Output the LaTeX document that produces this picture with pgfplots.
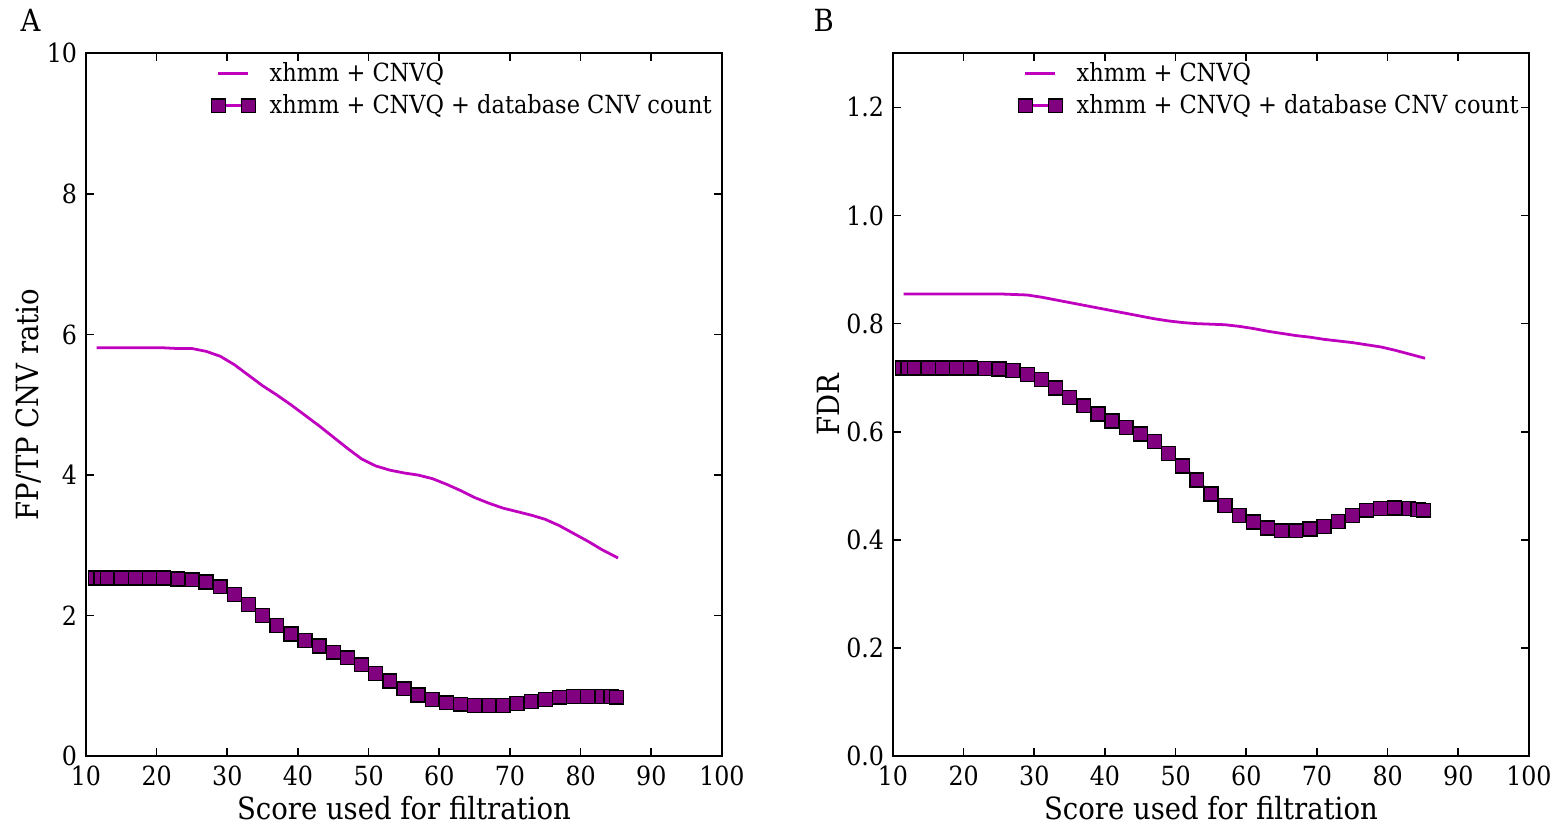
\documentclass[border=0pt]{standalone}
\usepackage{fontspec}
\setmainfont{DejaVu Serif Condensed}
\usepackage{pgfplots}
\pgfplotsset{compat=1.18}
\definecolor{mline}{RGB}{191,0,191}
\definecolor{mfill}{RGB}{128,0,128}
\pgfplotsset{
  panel/.style={
    scale only axis, width=228.96pt, height=253.08pt,
    xmin=10, xmax=100, xtick={10,20,...,100},
    tick align=inside, xtick pos=both, ytick pos=both,
    major tick length=2.9pt, minor tick num=0,
    axis line style={line width=0.8pt}, tick style={line width=0.6pt,black},
    /pgf/number format/assume math mode=true,
    tick label style={font=\fontsize{9.5}{11}\selectfont},
    yticklabel style={xshift=0.3pt, inner ysep=0.3pt},
    xticklabel style={inner ysep=0.3pt, yshift=-3pt},
    label style={font=\fontsize{11}{13}\selectfont},
    xlabel={Score used for filtration},
    xlabel style={at={(axis description cs:0.5,-0.074)},anchor=center},
    legend cell align=left,
    legend style={draw=none, fill=none, font=\fontsize{9}{10.5}\selectfont,
      at={(1,1)}, anchor=north east, xshift=1.5pt, yshift=1pt, row sep=-0.8pt},
    legend image code/.code={\draw[#1] plot coordinates {(0cm,0cm) (0.38cm,0cm)};\path (0.56cm,0cm);},
  },
  s1/.style={mline, line width=1pt, no marks},
  s2/.style={mline, line width=1pt, mark=square*, mark size=2.5pt,
    mark options={fill=mfill, draw=black, line width=0.5pt, solid}},
}
\begin{document}
\begin{tikzpicture}
\path (0,0) rectangle (562pt,296.6pt);
\node at (11pt,289.4pt) {\fontsize{11}{13}\selectfont A};
\node at (296.6pt,289.4pt) {\fontsize{11}{13}\selectfont B};
\begin{axis}[panel, at={(30.96pt,24.48pt)}, anchor=south west,
  ymin=0, ymax=10, ytick={0,2,...,10},
  ylabel={FP/TP CNV ratio},
  ylabel style={at={(axis description cs:-0.091,0.5)},anchor=center,rotate=0}]
\addplot[s1] coordinates {(11.5,5.81)(13,5.81)(15,5.81)(17,5.81)(19,5.81)(21,5.81)(23,5.80)(25,5.80)(27,5.76)(29,5.69)(31,5.57)(33,5.42)(35,5.27)(37,5.14)(39,5.00)(41,4.85)(43,4.70)(45,4.54)(47,4.38)(49,4.23)(51,4.13)(53,4.07)(55,4.03)(57,4.00)(59,3.95)(61,3.87)(63,3.78)(65,3.68)(67,3.60)(69,3.53)(71,3.48)(73,3.43)(75,3.37)(77,3.28)(79,3.17)(81,3.06)(83,2.94)(85.3,2.82)};
\addlegendentry{xhmm + CNVQ}
\addplot[s2] coordinates {(11.3,2.535)(12.1,2.535)(13,2.535)(15,2.535)(17,2.535)(19,2.535)(21,2.535)(23,2.52)(25,2.51)(27,2.48)(29,2.41)(31,2.30)(33,2.16)(35,2.00)(37,1.86)(39,1.74)(41,1.65)(43,1.57)(45,1.48)(47,1.40)(49,1.30)(51,1.18)(53,1.07)(55,0.96)(57,0.87)(59,0.81)(61,0.76)(63,0.74)(65,0.72)(67,0.72)(69,0.72)(71,0.75)(73,0.78)(75,0.81)(77,0.84)(79,0.85)(81,0.85)(83,0.85)(84.3,0.85)(85.1,0.84)};
\addlegendentry{xhmm + CNVQ + database CNV count}
\end{axis}
\begin{axis}[panel, at={(321.5pt,24.48pt)}, anchor=south west,
  ymin=0, ymax=1.3, ytick={0,0.2,...,1.2},
  yticklabel style={/pgf/number format/fixed,/pgf/number format/fixed zerofill,/pgf/number format/precision=1},
  ylabel={FDR},
  ylabel style={at={(axis description cs:-0.102,0.5)},anchor=center}]
\addplot[s1] coordinates {(11.5,0.855)(13,0.855)(15,0.855)(17,0.855)(19,0.855)(21,0.855)(23,0.855)(25,0.855)(27,0.854)(29,0.853)(31,0.849)(33,0.844)(35,0.839)(37,0.834)(39,0.829)(41,0.824)(43,0.819)(45,0.814)(47,0.809)(49,0.805)(51,0.802)(53,0.800)(55,0.799)(57,0.798)(59,0.795)(61,0.791)(63,0.786)(65,0.782)(67,0.778)(69,0.775)(71,0.771)(73,0.768)(75,0.765)(77,0.761)(79,0.757)(81,0.751)(83,0.744)(85.3,0.736)};
\addlegendentry{xhmm + CNVQ}
\addplot[s2] coordinates {(11.3,0.718)(12.1,0.718)(13,0.718)(15,0.718)(17,0.718)(19,0.718)(21,0.718)(23,0.717)(25,0.716)(27,0.713)(29,0.706)(31,0.697)(33,0.681)(35,0.663)(37,0.648)(39,0.633)(41,0.620)(43,0.608)(45,0.596)(47,0.582)(49,0.560)(51,0.537)(53,0.511)(55,0.485)(57,0.464)(59,0.445)(61,0.433)(63,0.422)(65,0.417)(67,0.417)(69,0.420)(71,0.425)(73,0.434)(75,0.445)(77,0.455)(79,0.458)(81,0.459)(83,0.458)(84.3,0.456)(85.1,0.455)};
\addlegendentry{xhmm + CNVQ + database CNV count}
\end{axis}
\end{tikzpicture}
\end{document}
